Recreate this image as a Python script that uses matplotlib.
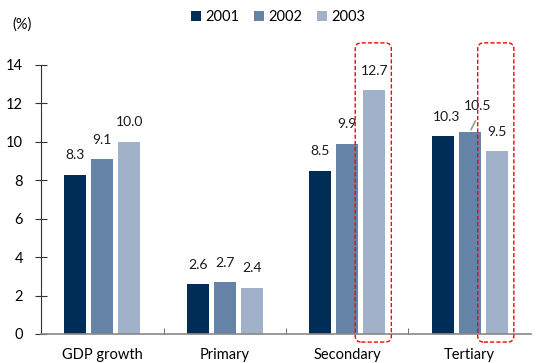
import numpy as np
import matplotlib.pyplot as plt
from matplotlib.patches import FancyBboxPatch

plt.rcParams['font.family'] = ['Lato', 'DejaVu Sans']

categories = ["GDP growth", "Primary", "Secondary", "Tertiary"]
years = ["2001", "2002", "2003"]
v2001 = [8.3, 2.6, 8.5, 10.3]
v2002 = [9.1, 2.7, 9.9, 10.5]
v2003 = [10.0, 2.4, 12.7, 9.5]
colors = ["#002D56", "#6483A7", "#A2B1CA"]

fig = plt.figure(figsize=(5.41, 3.63), dpi=100)
ax = fig.add_axes([0.0758, 0.0799, 0.9057, 0.7411])

x = np.arange(len(categories))
step = 0.22
width = 0.18
series = [v2001, v2002, v2003]
bars = []
for i, (vals, col, yr) in enumerate(zip(series, colors, years)):
    b = ax.bar(x + (i - 1) * step, vals, width, color=col, label=yr, zorder=2)
    bars.append(b)

# value labels, a few nudged so they don't collide
nudge = {(0, 3): (3, 0), (1, 3): (6, 5)}
for i, b in enumerate(bars):
    for j, rect in enumerate(b):
        v = series[i][j]
        dx, dy = nudge.get((i, j), (0, 0))
        cx = rect.get_x() + rect.get_width() / 2
        ax.annotate(f"{v:.1f}", (cx, v), xytext=(dx, 14 + dy),
                    textcoords="offset points", ha="center", va="center",
                    fontsize=10, color="#1a1a1a")

# leader line for the 2002 tertiary label
r = bars[1][3]
ax.annotate("", (r.get_x() + r.get_width() / 2, series[1][3]),
            xytext=(5, 10), textcoords="offset points",
            arrowprops=dict(arrowstyle="-", color="#999999", lw=1.2))

# dashed highlight boxes around the 2003 secondary and tertiary bars
for j in (2, 3):
    r = bars[2][j]
    x0 = r.get_x() - 0.065
    w = r.get_width() + 0.115
    box = FancyBboxPatch((x0, -0.42), w, 15.57,
                         boxstyle="round,pad=0,rounding_size=0.05",
                         mutation_aspect=6.4, fill=False, ec="#FF0000",
                         ls=(0, (3, 1.5)), lw=1.0, clip_on=False, zorder=3)
    ax.add_patch(box)

ax.set_xlim(-0.5, 3.5)
ax.set_ylim(0, 14)
ax.set_yticks(np.arange(0, 15, 2))
ax.set_xticks(x)
ax.set_xticklabels(categories, fontsize=10.5)
ax.set_xticks([0.5, 1.5, 2.5], minor=True)
ax.tick_params(axis="x", which="major", length=0, pad=10)
ax.tick_params(axis="x", which="minor", direction="in", length=4,
               color="#555555")
ax.tick_params(axis="y", direction="inout", length=8, labelsize=10.5,
               pad=9, color="#333333")

for s in ("top", "right"):
    ax.spines[s].set_visible(False)
ax.spines["left"].set_color("#333333")
ax.spines["bottom"].set_color("#888888")
ax.spines["bottom"].set_linewidth(1.2)

fig.text(0.022, 0.933, "(%)", fontsize=10.5, va="center")
fig.legend(loc="center", bbox_to_anchor=(0.514, 0.953), ncol=3,
           frameon=False, fontsize=10.5, handlelength=0.7, handleheight=0.7,
           handletextpad=0.3, columnspacing=1.0)

fig.savefig("out.png", dpi=100)
